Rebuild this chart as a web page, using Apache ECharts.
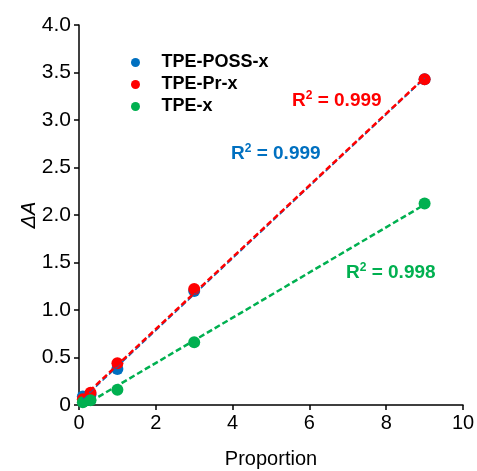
<!DOCTYPE html>
<html>
<head>
<meta charset="utf-8">
<script src="https://cdn.jsdelivr.net/npm/echarts@6/dist/echarts.min.js"></script>
<style>
  html, body { margin: 0; padding: 0; background: #fff; }
  #main { width: 477px; height: 471px; }
</style>
</head>
<body>
<div id="main"></div>
<script>
var xVals = [0.1, 0.3, 1, 3, 9];
var possY = [0.09, 0.11, 0.38, 1.20, 3.43];
var prY = [0.06, 0.13, 0.44, 1.22, 3.43];
var tpeY = [0.03, 0.05, 0.16, 0.66, 2.12];
var names = ['TPE-POSS-x', 'TPE-Pr-x', 'TPE-x'];
var colors = ['#0070C0', '#FF0000', '#00B050'];
var r2Vals = ['0.999', '0.999', '0.998'];

var font = 'Liberation Sans, Arial, sans-serif';

function pairs(ys) {
    return xVals.map(function (x, i) { return [x, ys[i]]; });
}

// least squares trendline, drawn from first to last x
function fit(ys) {
    var n = xVals.length, sx = 0, sy = 0, sxx = 0, sxy = 0;
    for (var i = 0; i < n; i++) {
        sx += xVals[i]; sy += ys[i];
        sxx += xVals[i] * xVals[i]; sxy += xVals[i] * ys[i];
    }
    var k = (n * sxy - sx * sy) / (n * sxx - sx * sx);
    var b = (sy - k * sx) / n;
    var x0 = xVals[0], x1 = xVals[n - 1];
    return [[x0, k * x0 + b], [x1, k * x1 + b]];
}

var allY = [possY, prY, tpeY];
var series = [];
allY.forEach(function (ys, i) {
    series.push({
        name: names[i],
        type: 'scatter',
        data: pairs(ys),
        symbolSize: 12,
        itemStyle: { color: colors[i], opacity: 1 },
        z: 2
    });
});
allY.forEach(function (ys, i) {
    series.push({
        type: 'line',
        data: fit(ys),
        showSymbol: false,
        symbol: 'none',
        lineStyle: { color: colors[i], width: i === 0 ? 1.5 : 2.5, type: [6, 3] },
        z: 3,
        silent: true
    });
});

function r2Label(i, left, top) {
    var c = colors[i];
    return {
        type: 'text', left: left, top: top,
        style: {
            text: '{a|R}{s|2}{a| = ' + r2Vals[i] + '}',
            rich: {
                a: { fontSize: 19, fontWeight: 'bold', fill: c, fontFamily: font, verticalAlign: 'bottom', lineHeight: 20 },
                s: { fontSize: 12, fontWeight: 'bold', fill: c, fontFamily: font, verticalAlign: 'top', lineHeight: 20 }
            }
        }
    };
}

var chart = echarts.init(document.getElementById('main'));
chart.setOption({
    animation: false,
    backgroundColor: '#fff',
    textStyle: { fontFamily: font },
    grid: { left: 79, right: 14, top: 25, bottom: 66, outerBoundsMode: 'none' },
    legend: {
        data: names,
        orient: 'vertical',
        left: 126,
        top: 48,
        icon: 'circle',
        itemWidth: 42,
        itemHeight: 9,
        itemGap: 3,
        itemStyle: { opacity: 1 },
        textStyle: { fontSize: 18, fontWeight: 'bold', color: '#000', fontFamily: font, lineHeight: 19 }
    },
    xAxis: {
        type: 'value',
        min: 0, max: 10, interval: 2,
        name: 'Proportion',
        nameLocation: 'middle',
        nameGap: 44,
        nameMoveOverlap: false,
        nameTextStyle: { fontSize: 20, color: '#000' },
        splitLine: { show: false },
        axisLine: { lineStyle: { color: '#000', width: 1.5 } },
        axisTick: { length: 5, lineStyle: { color: '#000', width: 1.5 } },
        axisLabel: { fontSize: 20, color: '#000', margin: 8 }
    },
    yAxis: {
        type: 'value',
        min: 0, max: 4, interval: 0.5,
        name: 'ΔA',
        nameLocation: 'middle',
        nameGap: 40,
        nameMoveOverlap: false,
        nameTextStyle: { fontSize: 20, color: '#000', fontStyle: 'italic' },
        splitLine: { show: false },
        axisLine: { show: true, lineStyle: { color: '#000', width: 1.5 } },
        axisTick: { show: true, length: 5, lineStyle: { color: '#000', width: 1.5 } },
        axisLabel: {
            fontSize: 21, color: '#000', margin: 8,
            formatter: function (v) { return v === 0 ? '0' : v.toFixed(1); }
        }
    },
    graphic: [
        r2Label(1, 292, 90),
        r2Label(0, 231, 143),
        r2Label(2, 346, 262)
    ],
    series: series
});
</script>
</body>
</html>
